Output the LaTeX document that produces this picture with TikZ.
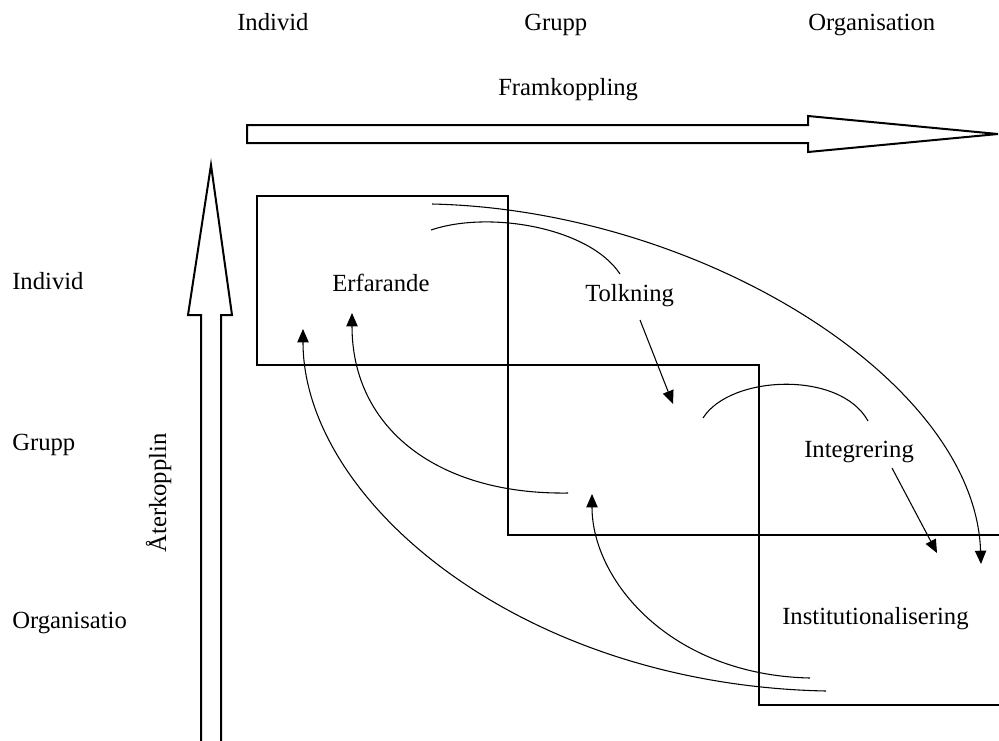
\documentclass[tikz,border=0pt]{standalone}
\usepackage{fontspec}
\setmainfont{Liberation Serif}
\usetikzlibrary{arrows.meta}
\begin{document}
\begin{tikzpicture}[x=0.75pt,y=-0.75pt,
  lbl/.style={inner sep=0pt,anchor=base west,font=\fontsize{18.5}{22}\selectfont},
  boxline/.style={line width=1.9pt,line join=miter},
  bigarrow/.style={line width=1.5pt,line join=miter},
  flow/.style={line width=0.8pt},
  flowarr/.style={line width=0.8pt,-{Triangle[length=10pt,width=8.5pt]}}]
\useasboundingbox (0,0) rectangle (999,740);
% top labels
\node[lbl] (tind) at (237,30) {Individ};
\node[lbl] (tgrp) at (524,30) {Grupp};
\node[lbl] (torg) at (808,30) {Organisation};
\node[lbl] (fram) at (498,95) {Framkoppling};
% left labels
\node[lbl] (lind) at (12,289) {Individ};
\node[lbl] (lgrp) at (12,450) {Grupp};
\node[lbl] (lorg) at (12,628) {Organisatio};
\node[inner sep=0pt,anchor=base,rotate=90,font=\fontsize{18.5}{22}\selectfont] (ater) at (166,493) {Återkopplin};
% big arrows
\draw[bigarrow] (247,125) -- (808,125) -- (808,116) -- (998,134) -- (808,152) -- (808,143) -- (247,143) -- cycle;
\draw[bigarrow] (201,742) -- (201,315) -- (188,315) -- (211,165) -- (232,315) -- (221,315) -- (221,742);
% boxes
\draw[boxline] (257,196) rectangle (508,365);
\draw[boxline] (508,365) rectangle (759,535);
\draw[boxline] (1002,535) -- (759,535) -- (759,705) -- (1002,705);
% stage labels
\node[lbl] (erf) at (332,291) {Erfarande};
\node[lbl] (tol) at (585,301) {Tolkning};
\node[lbl] (int) at (804,457) {Integrering};
\node[lbl] (ins) at (782,624) {Institutionalisering};
% connector end points
\coordinate (a1) at (431,230);
\coordinate (a2) at (620,274);
\coordinate (b1) at (432,204);
\coordinate (b2) at (981,564);
\coordinate (c1) at (640,320);
\coordinate (c2) at (673,404);
\coordinate (d1) at (703,418);
\coordinate (d2) at (868,421);
\coordinate (e1) at (892,468);
\coordinate (e2) at (937,553);
\coordinate (f1) at (568,493);
\coordinate (f2) at (352,313);
\coordinate (g1) at (810,678);
\coordinate (g2) at (592,494);
\coordinate (h1) at (826,691);
\coordinate (h2) at (303,329);
% connectors
\draw[flow] (a1) .. controls (490,210) and (590,228) .. (a2);
\draw[flowarr] (b1) .. controls (700,210) and (975,380) .. (b2);
\draw[flowarr] (c1) -- (c2);
\draw[flow] (d1) .. controls (730,375) and (840,370) .. (d2);
\draw[flowarr] (e1) -- (e2);
\draw[flowarr] (f1) .. controls (440,495) and (352,430) .. (f2);
\draw[flowarr] (g1) .. controls (670,675) and (592,580) .. (g2);
\draw[flowarr] (h1) .. controls (520,685) and (303,500) .. (h2);
\end{tikzpicture}
\end{document}
